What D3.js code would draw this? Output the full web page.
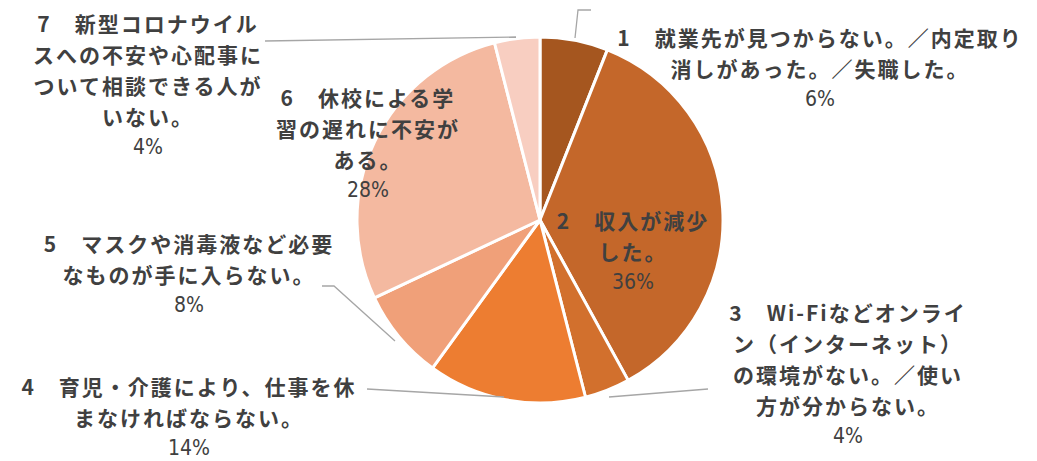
<!DOCTYPE html>
<html>
<head>
<meta charset="utf-8">
<script src="https://cdn.jsdelivr.net/npm/d3@7"></script>
<style>
  body { margin: 0; background: #fff; }
  .lbl { font-family: "Noto Sans CJK JP", "Noto Sans", sans-serif; font-size: 21px; font-weight: bold; fill: #404040; letter-spacing: 2px; }
  .pct { font-family: "Liberation Sans Narrow", "DejaVu Sans Condensed", sans-serif; font-size: 21px; font-weight: normal; letter-spacing: 0px; }
</style>
</head>
<body>
<div id="chart"></div>
<script>
// data
const categories = ['1', '2', '3', '4', '5', '6', '7'];
const values = [6, 36, 4, 14, 8, 28, 4];
const labelLines = [
    ['1　就業先が見つからない。／内定取り', '消しがあった。／失職した。'],
    ['2　収入が減少', 'した。'],
    ['3　Wi-Fiなどオンライ', 'ン（インターネット）', 'の環境がない。／使い', '方が分からない。'],
    ['4　育児・介護により、仕事を休', 'まなければならない。'],
    ['5　マスクや消毒液など必要', 'なものが手に入らない。'],
    ['6　休校による学', '習の遅れに不安が', 'ある。'],
    ['7　新型コロナウイル', 'スへの不安や心配事に', 'ついて相談できる人が', 'いない。']
];
const colors = ['#A5561F', '#C4672A', '#D2702D', '#ED7D31', '#F0A079', '#F4B9A0', '#F8CEC1'];
// label anchor (center x, first line y) and leader line points
const labelPos = [[820, 37], [633, 220], [848, 312], [189, 386], [189, 243], [368, 97], [148, 23]];
const leaders = [
    [[591, 10], [578, 10], [575, 38]],
    null,
    [[708, 389], [609, 397]],
    [[367, 389], [504, 397]],
    [[322, 286], [334, 286], [395, 341]],
    null,
    [[265, 41], [516, 37]]
];

const width = 1037, height = 461;
const cx = 540, cy = 220, radius = 183;

const svg = d3.select('#chart')
    .append('svg')
    .attr('width', width)
    .attr('height', height);

const pie = d3.pie().sort(null).value(d => d);
const arc = d3.arc().innerRadius(0).outerRadius(radius);

const g = svg.append('g').attr('transform', `translate(${cx}, ${cy})`);
g.selectAll('path')
    .data(pie(values))
    .join('path')
    .attr('d', arc)
    .attr('fill', (d, i) => colors[i])
    .attr('stroke', '#fff')
    .attr('stroke-width', 3)
    .attr('stroke-linejoin', 'round');

// leader lines
svg.selectAll('.leader')
    .data(leaders.filter(l => l))
    .join('path')
    .attr('class', 'leader')
    .attr('d', d => d3.line()(d))
    .attr('fill', 'none')
    .attr('stroke', '#A6A6A6')
    .attr('stroke-width', 1.3);

// labels
const lineH = 31;
labelLines.forEach((lines, i) => {
    const t = svg.append('text')
        .attr('class', 'lbl')
        .attr('text-anchor', 'middle')
        .attr('dominant-baseline', 'central');
    lines.concat([values[i] + '%']).forEach((s, k) => {
        t.append('tspan')
            .attr('class', k == lines.length ? 'pct' : null)
            .attr('x', labelPos[i][0])
            .attr('y', labelPos[i][1] + k * lineH)
            .text(s);
    });
});
</script>
</body>
</html>
